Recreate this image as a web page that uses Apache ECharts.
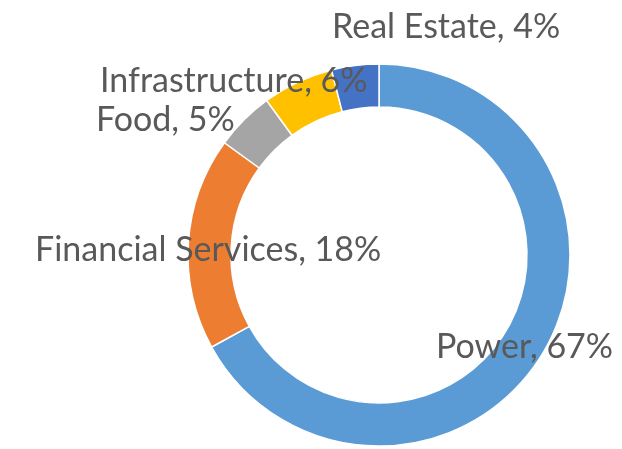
<!DOCTYPE html>
<html>
<head>
<meta charset="utf-8">
<script src="https://cdn.jsdelivr.net/npm/echarts@6/dist/echarts.min.js"></script>
<style>
  html, body { margin: 0; padding: 0; background: #fff; }
  #chart { width: 622px; height: 449px; }
</style>
</head>
<body>
<div id="chart"></div>
<script>
// sectors, clockwise from 12 o'clock
var sectors = ['Power', 'Financial Services', 'Food', 'Infrastructure', 'Real Estate'];
var shares = [67, 18, 5, 6, 4];
var colors = ['#5B9BD5', '#ED7D31', '#A5A5A5', '#FFC000', '#4472C4'];

// where each label sits (left edge, vertical middle), same order as sectors
var labelSpots = [[436, 347], [35, 250], [96, 120], [100, 81], [332, 27]];

var chart = echarts.init(document.getElementById('chart'));

chart.setOption({
  animation: false,
  series: [{
    type: 'pie',
    center: [379, 255],
    radius: [148, 191],
    startAngle: 90,
    clockwise: true,
    avoidLabelOverlap: false,
    itemStyle: { borderColor: '#fff', borderWidth: 1.5 },
    label: {
      show: true,
      position: 'outside',
      color: '#595959',
      fontFamily: 'Lato',
      fontSize: 34,
      formatter: function (p) {
        return p.name + ', ' + Math.round(p.percent) + '%';
      }
    },
    labelLine: { show: false },
    labelLayout: function (params) {
      var s = labelSpots[params.dataIndex];
      return { x: s[0], y: s[1], align: 'left', verticalAlign: 'middle' };
    },
    emphasis: { disabled: true },
    data: sectors.map(function (name, i) {
      return { name: name, value: shares[i], itemStyle: { color: colors[i] } };
    })
  }]
});
</script>
</body>
</html>
